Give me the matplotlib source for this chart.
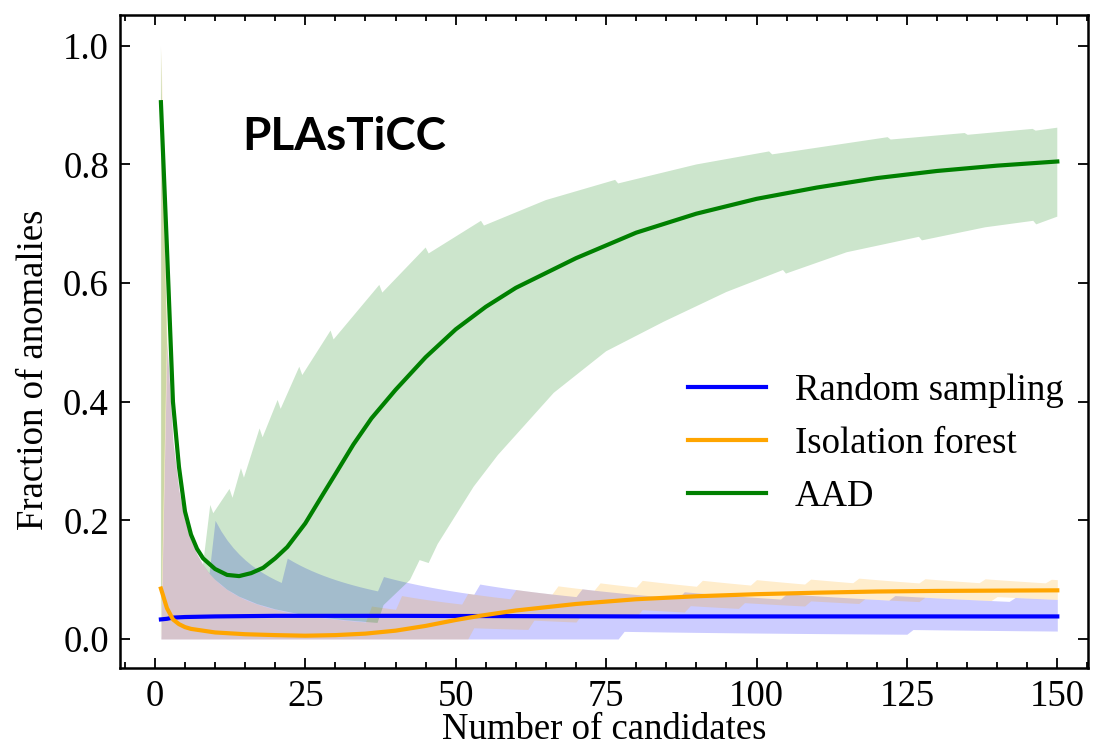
import numpy as np
import matplotlib
matplotlib.use("Agg")
import matplotlib.pyplot as plt

# ---------------- data ----------------
# mean curves
aad_x = [1, 2, 3, 4, 5, 6, 7, 8, 10, 12, 14, 16, 18, 20, 22, 25, 28, 30, 33, 36, 40, 45,
         50, 55, 60, 70, 80, 90, 100, 110, 120, 130, 140, 150]
aad_y = [0.905, 0.66, 0.40, 0.29, 0.215, 0.176, 0.152, 0.136, 0.118, 0.108, 0.106, 0.111,
         0.120, 0.136, 0.155, 0.195, 0.245, 0.278, 0.328, 0.372, 0.420, 0.475, 0.522, 0.560,
         0.592, 0.642, 0.685, 0.717, 0.742, 0.761, 0.777, 0.789, 0.798, 0.805]

rand_x = [1, 2, 3, 5, 10, 20, 40, 80, 150]
rand_y = [0.033, 0.034, 0.036, 0.037, 0.038, 0.039, 0.039, 0.038, 0.038]

iso_x = [1, 2, 3, 4, 5, 6, 8, 10, 15, 20, 25, 30, 35, 40, 45, 50, 54, 60, 70, 80, 90, 100,
         110, 120, 130, 140, 150]
iso_y = [0.085, 0.052, 0.033, 0.025, 0.020, 0.017, 0.014, 0.011, 0.008, 0.0065, 0.0055,
         0.0065, 0.009, 0.014, 0.022, 0.032, 0.039, 0.048, 0.059, 0.067, 0.072, 0.0755,
         0.078, 0.080, 0.081, 0.0815, 0.082]

# 5-95% bands of random sampling / isolation forest: anomaly counts k (fraction = k / n),
# given as the candidate number where each count starts
rand_hi_start = [1, 2, 10, 22, 38, 54, 71, 88, 105, 123, 143]
rand_hi_count = [0, 1, 2, 3, 4, 5, 6, 7, 8, 9, 10]
rand_lo_start = [1, 78, 126]
rand_lo_count = [0, 1, 2]

iso_hi_start = [1, 36, 41, 52, 60, 67, 74, 81, 91, 100, 109, 117, 128, 138, 149]
iso_hi_count = [1, 2, 3, 4, 5, 6, 7, 8, 9, 10, 11, 12, 13, 14, 15]
iso_lo_start = [1, 53, 63, 71, 81, 89, 98, 109, 118, 128, 140]
iso_lo_count = [0, 1, 2, 3, 4, 5, 6, 7, 8, 9, 10]

# AAD band edges (vertices)
aad_hi_x = [1, 2, 3, 4, 5, 6, 7, 8, 9.2, 9.7, 12.4, 12.9, 14.3, 14.8, 17.4, 17.9, 20.4, 20.9,
            24.0, 24.5, 29.2, 29.7, 37.3, 37.8, 45.0, 45.5, 54.2, 54.7, 65, 76.5, 77.0, 90,
            102.1, 102.6, 121.8, 122.3, 134.6, 135.1, 145.9, 146.4, 150]
aad_hi_y = [1.0, 0.5, 0.333, 0.25, 0.2, 0.167, 0.143, 0.125, 0.226, 0.212, 0.253, 0.238,
            0.288, 0.272, 0.355, 0.340, 0.403, 0.388, 0.459, 0.445, 0.520, 0.505, 0.597,
            0.584, 0.660, 0.650, 0.705, 0.697, 0.740, 0.774, 0.768, 0.800, 0.822, 0.817,
            0.846, 0.842, 0.853, 0.850, 0.860, 0.857, 0.862]
aad_lo_x = [1, 2, 3, 4, 5, 6, 7, 8, 9, 10, 12, 14, 17, 20, 24, 28, 32, 37, 38, 42.4, 44,
            45.5, 47, 53, 57, 66.3, 75, 84.6, 95, 104.4, 104.9, 115, 127, 127.5, 138,
            146, 146.5, 150]
aad_lo_y = [0.0, 0.5, 0.333, 0.25, 0.2, 0.167, 0.143, 0.125, 0.111, 0.1, 0.0833, 0.0714,
            0.0588, 0.05, 0.0417, 0.0357, 0.0313, 0.027, 0.057, 0.0995, 0.133, 0.128,
            0.160, 0.257, 0.310, 0.415, 0.485, 0.535, 0.585, 0.622, 0.616, 0.652, 0.678,
            0.672, 0.694, 0.705, 0.699, 0.712]

labels = ["Random sampling", "Isolation forest", "AAD"]
colors = ["blue", "orange", "green"]
title_text = "PLAsTiCC"

# ---------------- figure ----------------
plt.rcParams["font.family"] = ["Liberation Serif", "DejaVu Serif"]
plt.rcParams["font.size"] = 26.5

fig = plt.figure(figsize=(10.94, 7.49), dpi=100)
ax = fig.add_axes([0.1097, 0.1081, 0.8848, 0.8719])

n = np.arange(1, 151)


def counts(start, cnt):
    idx = np.searchsorted(np.asarray(start), n, side="right") - 1
    return np.asarray(cnt, dtype=float)[idx]


rand_hi = counts(rand_hi_start, rand_hi_count) / n
rand_lo = counts(rand_lo_start, rand_lo_count) / n
iso_hi = counts(iso_hi_start, iso_hi_count) / n
iso_lo = counts(iso_lo_start, iso_lo_count) / n

ax.fill_between(n, rand_lo, rand_hi, color=colors[0], alpha=0.2, lw=0)
ax.fill_between(n, iso_lo, iso_hi, color=colors[1], alpha=0.2, lw=0)
ax.fill(np.r_[aad_hi_x, aad_lo_x[::-1]], np.r_[aad_hi_y, aad_lo_y[::-1]],
        color=colors[2], alpha=0.2, lw=0)

ax.plot(rand_x, rand_y, color=colors[0], lw=3, label=labels[0])
ax.plot(iso_x, iso_y, color=colors[1], lw=3, label=labels[1])
ax.plot(aad_x, aad_y, color=colors[2], lw=3, label=labels[2])

ax.set_xlim(-5.8, 155.1)
ax.set_ylim(-0.049, 1.052)
ax.set_xticks([0, 25, 50, 75, 100, 125, 150])
ax.set_xticks(np.arange(-5, 156, 5), minor=True)
ax.set_yticks([0.0, 0.2, 0.4, 0.6, 0.8, 1.0])
ax.set_yticklabels(["0.0", "0.2", "0.4", "0.6", "0.8", "1.0"])

ax.tick_params(which="both", direction="in", top=True, right=True, width=1.3)
ax.tick_params(which="major", length=7.5, pad=8, labelsize=26.5)
ax.tick_params(which="minor", length=4.5)
for s in ax.spines.values():
    s.set_linewidth(1.8)

ax.set_xlabel("Number of candidates", fontsize=26.5)
ax.set_ylabel("Fraction of anomalies", fontsize=26.5)
ax.xaxis.set_label_coords(0.5, -0.068)
ax.yaxis.set_label_coords(-0.071, 0.456)

ax.text(0.126, 0.793, title_text, transform=ax.transAxes, fontsize=33,
        fontweight="bold", family=["Lato", "DejaVu Sans"], ha="left", va="baseline")

leg = ax.legend(loc="upper left", bbox_to_anchor=(0.587, 0.452), frameon=False,
                borderaxespad=0, borderpad=0, handlelength=2.1, handletextpad=0.8,
                labelspacing=0.5, fontsize=26.5)

fig.savefig("out.png", dpi=100)
